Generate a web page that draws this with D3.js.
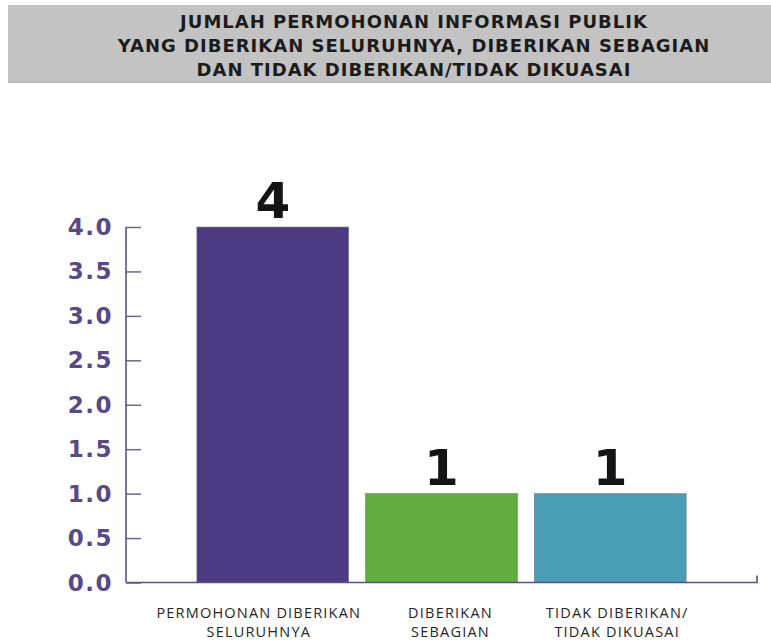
<!DOCTYPE html>
<html>
<head>
<meta charset="utf-8">
<script src="https://cdn.jsdelivr.net/npm/d3@7"></script>
<style>
  html, body { margin: 0; padding: 0; background: #fff; }
  svg { display: block; }
</style>
</head>
<body>
<svg id="chart" width="771" height="641"></svg>
<script>
const titleLines = [
  "JUMLAH PERMOHONAN INFORMASI PUBLIK",
  "YANG DIBERIKAN SELURUHNYA, DIBERIKAN SEBAGIAN",
  "DAN TIDAK DIBERIKAN/TIDAK DIKUASAI"
];
const categories = [
  ["PERMOHONAN DIBERIKAN", "SELURUHNYA"],
  ["DIBERIKAN", "SEBAGIAN"],
  ["TIDAK DIBERIKAN/", "TIDAK DIKUASAI"]
];
const values = [4, 1, 1];
const barColors = ["#4c3a82", "#62ad3d", "#4a9eb6"];
const yTicks = [0, 0.5, 1, 1.5, 2, 2.5, 3, 3.5, 4];

const svg = d3.select("#chart");
const W = 771, H = 641;
const axisColor = "#5c4f8c";

// Header box
svg.append("rect").attr("x", 8).attr("y", 5).attr("width", W - 8).attr("height", 78)
  .attr("fill", "#c3c3c3");
svg.append("line").attr("x1", 8).attr("x2", W).attr("y1", 82.5).attr("y2", 82.5)
  .attr("stroke", "#b4b4b4").attr("stroke-width", 1);

const titleFont = "'DejaVu Sans', sans-serif";
svg.append("g").selectAll("text").data(titleLines).join("text")
  .attr("x", 414).attr("y", (d, i) => 28 + i * 24)
  .attr("text-anchor", "middle")
  .attr("font-family", titleFont).attr("font-weight", "bold")
  .attr("font-size", 18).attr("letter-spacing", 1.0).attr("fill", "#1b1b1b")
  .text(d => d);

const x = d3.scaleBand().domain(d3.range(categories.length))
  .range([126, 757]).paddingInner(0.1).paddingOuter(0.42);
const y = d3.scaleLinear().domain([0, 4]).range([582.5, 227]);

// Bars
svg.append("g").selectAll("rect").data(values).join("rect")
  .attr("x", (d, i) => x(i)).attr("width", x.bandwidth())
  .attr("y", d => y(d)).attr("height", d => y(0) - y(d))
  .attr("fill", (d, i) => barColors[i])
  .attr("stroke", "#7a7a8a").attr("stroke-width", 0.6);

// Value labels
svg.append("g").selectAll("text").data(values).join("text")
  .attr("x", (d, i) => x(i) + x.bandwidth() / 2)
  .attr("y", d => y(d) - 9)
  .attr("text-anchor", "middle")
  .attr("font-family", "'DejaVu Sans', sans-serif").attr("font-weight", "bold")
  .attr("font-size", 50).attr("fill", "#141414")
  .text(d => d);

// Y axis
const yAxis = d3.axisRight(y).tickValues(yTicks).tickSize(15).tickFormat("");
const gy = svg.append("g").attr("transform", "translate(126,0)").call(yAxis);
gy.select(".domain").remove();
gy.selectAll(".tick line").attr("stroke", "#6e6690").attr("stroke-width", 1.5);
svg.append("line").attr("x1", 126).attr("x2", 126).attr("y1", y(4)).attr("y2", y(0))
  .attr("stroke", axisColor).attr("stroke-width", 1.6);

svg.append("g").selectAll("text").data(yTicks).join("text")
  .attr("x", 113).attr("y", d => y(d) + 8)
  .attr("text-anchor", "end")
  .attr("font-family", "'DejaVu Sans', sans-serif").attr("font-weight", "bold")
  .attr("font-size", 23).attr("fill", "#574a87")
  .attr("letter-spacing", 1.5)
  .text(d => d3.format(".1f")(d));

// X axis
const xAxis = d3.axisBottom(x).tickSize(0).tickFormat("");
const gx = svg.append("g").attr("transform", `translate(0,${y(0)})`).call(xAxis);
gx.select(".domain").remove();
svg.append("path")
  .attr("d", `M126,${y(0)} H757 V${y(0) - 7}`)
  .attr("fill", "none").attr("stroke", axisColor).attr("stroke-width", 1.6);

// Category labels (slightly offset from bar centres as in the original layout)
const labelShift = [-14, 9, 7];
const cat = svg.append("g").selectAll("text").data(categories).join("text")
  .attr("x", (d, i) => x(i) + x.bandwidth() / 2 + labelShift[i])
  .attr("y", 618)
  .attr("text-anchor", "middle")
  .attr("font-family", "'Open Sans', sans-serif")
  .attr("font-size", 14.5).attr("letter-spacing", 1.2).attr("fill", "#262626");
cat.selectAll("tspan").data(d => d).join("tspan")
  .attr("x", function() { return this.parentNode.getAttribute("x"); })
  .attr("dy", (d, i) => i === 0 ? 0 : 19)
  .text(d => d);
</script>
</body>
</html>
